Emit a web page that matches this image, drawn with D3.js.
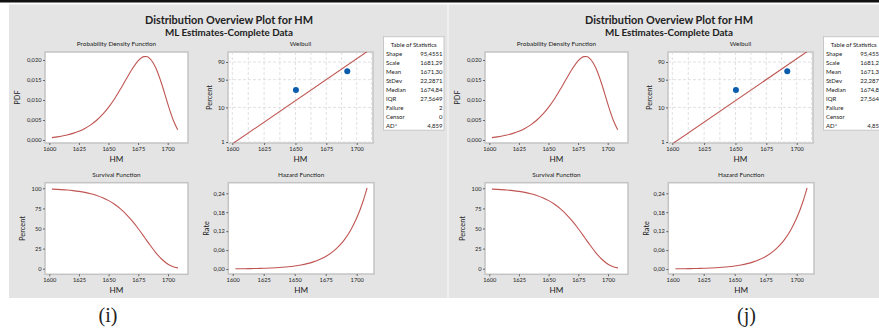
<!DOCTYPE html>
<html>
<head>
<meta charset="utf-8">
<script src="https://cdn.jsdelivr.net/npm/d3@7"></script>
<style>
  body { margin: 0; background: #fff; }
  svg { display: block; }
  text { font-family: Lato, 'Noto Sans', sans-serif; fill: #222; }
</style>
</head>
<body>
<div class="canvas"></div>
<script>
// values (HM)
const hmGrid = [1602.2, 1610, 1615, 1620, 1625, 1630, 1635, 1640, 1645, 1650, 1655, 1660, 1665,
  1670, 1675, 1680, 1682, 1685, 1690, 1695, 1700, 1705, 1708.4];
const pdfValues = [0.000593, 0.000933, 0.001243, 0.001653, 0.002190, 0.002889, 0.003790, 0.004939,
  0.006381, 0.008151, 0.010259, 0.012667, 0.015250, 0.017761, 0.019803, 0.020847, 0.020861,
  0.020351, 0.017987, 0.013947, 0.009102, 0.004737, 0.002573];
const survivalPct = [99.00, 98.41, 97.87, 97.15, 96.20, 94.94, 93.28, 91.11, 88.29, 84.67, 80.08,
  74.36, 67.38, 59.12, 49.70, 39.49, 35.31, 29.11, 19.45, 11.41, 5.64, 2.22, 1.00];
const hazardRate = [0.000599, 0.000948, 0.001270, 0.001701, 0.002276, 0.003043, 0.004063, 0.005421,
  0.007227, 0.009627, 0.012810, 0.017035, 0.022632, 0.030041, 0.039844, 0.052797, 0.059078,
  0.069909, 0.092485, 0.122251, 0.161473, 0.213096, 0.257310];

// probability plot
const failureHM = [1650.4, 1692.2];
const failurePct = [29.17, 70.83];
const fitHM = [1600, 1710];
const fitPct = [0.878, 99.35];

const statLabels = ['Shape', 'Scale', 'Mean', 'StDev', 'Median', 'IQR', 'Failure', 'Censor', 'AD*'];
const statValues = ['95,4551', '1681,29', '1671,30', '22,2871', '1674,84', '27,5649', '2', '0', '4,859'];

const hmTicks = [1600, 1625, 1650, 1675, 1700];
const pdfTicks = [0, 0.005, 0.01, 0.015, 0.02];
const pctTicks = [1, 10, 50, 90];
const survTicks = [0, 25, 50, 75, 100];
const rateTicks = [0, 0.06, 0.12, 0.18, 0.24];
const wbGridPct = [1, 10, 50, 90];
const wbGridHM = [1600, 1612.5, 1625, 1637.5, 1650, 1662.5, 1675, 1687.5, 1700, 1712.5];

const panels = [{ dx: 0, caption: '(i)' }, { dx: 440, caption: '(j)' }];

const width = 879;
const height = 333;
const red = '#bf5552';
const blue = '#0b5cad';
const sans = "Lato, 'Noto Sans', sans-serif";

const svg = d3.select('.canvas')
  .append('svg')
  .attr('width', width)
  .attr('height', height);

const comma = f => d => d3.format(f)(d).replace('.', ',');
// weibull probability transform and its inverse
const wb = p => Math.log(-Math.log(1 - p / 100));
const wbInv = w => 100 * (1 - Math.exp(-Math.exp(w)));

// top rule and divider strip
svg.append('rect').attr('x', 0).attr('y', 0).attr('width', width).attr('height', 2.5).attr('fill', '#111');
svg.append('rect').attr('x', 447).attr('y', 4.5).attr('width', 2.5).attr('height', 293.5).attr('fill', '#efefef');

const frame = (g, box, title) => {
  g.append('rect')
    .attr('x', box.x0).attr('y', box.y0)
    .attr('width', box.x1 - box.x0).attr('height', box.y1 - box.y0)
    .attr('fill', '#fff')
    .attr('stroke', '#c4c4c4')
    .attr('stroke-width', 1.5);
  g.append('text')
    .attr('x', (box.x0 + box.x1) / 2).attr('y', box.y0 - 6)
    .attr('text-anchor', 'middle')
    .attr('font-size', 6.4)
    .text(title);
};

const axes = (g, box, x, y, yTicks, yFmt, yLabel, yLabelX) => {
  const xAxis = g.append('g')
    .attr('transform', `translate(0, ${box.y1})`)
    .call(d3.axisBottom(x).tickValues(hmTicks).tickSize(2).tickPadding(1.5).tickFormat(d3.format('d')));
  const yAxis = g.append('g')
    .attr('transform', `translate(${box.x0}, 0)`)
    .call(d3.axisLeft(y).tickValues(yTicks).tickSize(2).tickPadding(1.5).tickFormat(yFmt));
  [xAxis, yAxis].forEach(a => {
    a.select('.domain').remove();
    a.selectAll('line').attr('stroke', '#666');
    a.selectAll('text').attr('font-size', 5.7).attr('fill', '#333').style('font-family', sans);
  });
  g.append('text')
    .attr('x', (box.x0 + box.x1) / 2).attr('y', box.y1 + 19)
    .attr('text-anchor', 'middle')
    .attr('font-size', 8.2)
    .style('font-family', sans)
    .text('HM');
  g.append('text')
    .attr('transform', `translate(${yLabelX}, ${(box.y0 + box.y1) / 2}) rotate(-90)`)
    .attr('text-anchor', 'middle')
    .attr('font-size', 7.4)
    .style('font-family', sans)
    .text(yLabel);
};

const curve = (g, x, y, values) => {
  g.append('path')
    .datum(hmGrid.map((h, i) => [h, values[i]]))
    .attr('fill', 'none')
    .attr('stroke', red)
    .attr('stroke-width', 1.1)
    .attr('d', d3.line().x(d => x(d[0])).y(d => y(d[1])).curve(d3.curveMonotoneX));
};

const drawPanel = ({ dx, caption }, idx) => {
  const g = svg.append('g').attr('transform', `translate(${dx}, 0)`);

  g.append('rect')
    .attr('x', 9).attr('y', 4.5)
    .attr('width', 438).attr('height', 293.5)
    .attr('fill', '#e4e4e4');

  g.append('text')
    .attr('x', 229).attr('y', 24)
    .attr('text-anchor', 'middle')
    .attr('font-size', 10.9)
    .attr('font-weight', 'bold')
    .text('Distribution Overview Plot for HM');
  g.append('text')
    .attr('x', 229).attr('y', 35.5)
    .attr('text-anchor', 'middle')
    .attr('font-size', 9.8)
    .attr('font-weight', 'bold')
    .text('ML Estimates-Complete Data');

  // probability density
  const pdfBox = { x0: 45, x1: 188, y0: 52, y1: 143 };
  const xPdf = d3.scaleLinear().domain([1600, 1700]).range([49.3, 167.7]);
  const yPdf = d3.scaleLinear().domain([0, 0.02]).range([140, 60]);
  frame(g, pdfBox, 'Probability Density Function');
  axes(g, pdfBox, xPdf, yPdf, pdfTicks, comma('.3f'), 'PDF', 20);
  curve(g, xPdf, yPdf, pdfValues);

  // weibull probability plot (y scale works in transformed units)
  const wbBox = { x0: 228, x1: 373, y0: 52, y1: 143 };
  const xWb = d3.scaleLog().domain([1600, 1700]).range([232.3, 356.7]);
  const yWb = d3.scaleLinear().domain([wb(1), wb(90)]).range([142, 62]);
  frame(g, wbBox, 'Weibull');
  const grid = g.append('g')
    .attr('stroke', '#d9d9d9')
    .attr('stroke-width', 0.8)
    .attr('stroke-dasharray', '3,2');
  grid.selectAll('.h').data(wbGridPct).enter().append('line')
    .attr('x1', wbBox.x0).attr('x2', wbBox.x1)
    .attr('y1', d => yWb(wb(d))).attr('y2', d => yWb(wb(d)));
  grid.selectAll('.v').data(wbGridHM).enter().append('line')
    .attr('x1', d => xWb(d)).attr('x2', d => xWb(d))
    .attr('y1', wbBox.y0).attr('y2', wbBox.y1);
  axes(g, wbBox, xWb, yWb, pctTicks.map(wb), w => Math.round(wbInv(w)), 'Percent', 211.5);

  const clipId = `wbclip${idx}`;
  g.append('clipPath').attr('id', clipId)
    .append('rect')
    .attr('x', wbBox.x0).attr('y', wbBox.y0)
    .attr('width', wbBox.x1 - wbBox.x0).attr('height', wbBox.y1 - wbBox.y0);
  g.append('path')
    .datum(fitHM.map((h, i) => [h, fitPct[i]]))
    .attr('clip-path', `url(#${clipId})`)
    .attr('fill', 'none')
    .attr('stroke', red)
    .attr('stroke-width', 1.1)
    .attr('d', d3.line().x(d => xWb(d[0])).y(d => yWb(wb(d[1]))));
  g.selectAll('.pt').data(failureHM).enter().append('circle')
    .attr('cx', d => xWb(d))
    .attr('cy', (d, i) => yWb(wb(failurePct[i])))
    .attr('r', 3)
    .attr('fill', blue);

  // statistics table
  const tbl = g.append('g');
  tbl.append('rect')
    .attr('x', 383.5).attr('y', 36.7)
    .attr('width', 60.5).attr('height', 93.5)
    .attr('fill', '#fff')
    .attr('stroke', '#c8c8c8')
    .attr('stroke-width', 1);
  tbl.append('text')
    .attr('x', 413.7).attr('y', 47.2)
    .attr('text-anchor', 'middle')
    .attr('font-size', 6)
    .text('Table of Statistics');
  tbl.selectAll('.lab').data(statLabels).enter().append('text')
    .attr('x', 386).attr('y', (d, i) => 56.3 + i * 9)
    .attr('font-size', 6)
    .text(d => d);
  tbl.selectAll('.val').data(statValues).enter().append('text')
    .attr('x', 442.5).attr('y', (d, i) => 56.3 + i * 9)
    .attr('text-anchor', 'end')
    .attr('font-size', 6)
    .text(d => d);

  // survival
  const survBox = { x0: 45, x1: 188, y0: 182.7, y1: 274.3 };
  const xSurv = d3.scaleLinear().domain([1600, 1700]).range([49.3, 168]);
  const ySurv = d3.scaleLinear().domain([0, 100]).range([268.7, 188.3]);
  frame(g, survBox, 'Survival Function');
  axes(g, survBox, xSurv, ySurv, survTicks, d3.format('d'), 'Percent', 24.5);
  curve(g, xSurv, ySurv, survivalPct);

  // hazard
  const hazBox = { x0: 228.3, x1: 374, y0: 182.7, y1: 274 };
  const xHaz = d3.scaleLinear().domain([1600, 1700]).range([232.7, 356.7]);
  const yHaz = d3.scaleLinear().domain([0, 0.24]).range([269, 193.3]);
  frame(g, hazBox, 'Hazard Function');
  axes(g, hazBox, xHaz, yHaz, rateTicks, comma('.2f'), 'Rate', 208.5);
  curve(g, xHaz, yHaz, hazardRate);

  svg.append('text')
    .attr('x', dx === 0 ? 108 : 746.5).attr('y', 322)
    .attr('text-anchor', 'middle')
    .style('font-family', "'Liberation Serif', 'Times New Roman', serif")
    .attr('font-size', 20)
    .attr('fill', '#111')
    .text(caption);
};

panels.forEach(drawPanel);
</script>
</body>
</html>
